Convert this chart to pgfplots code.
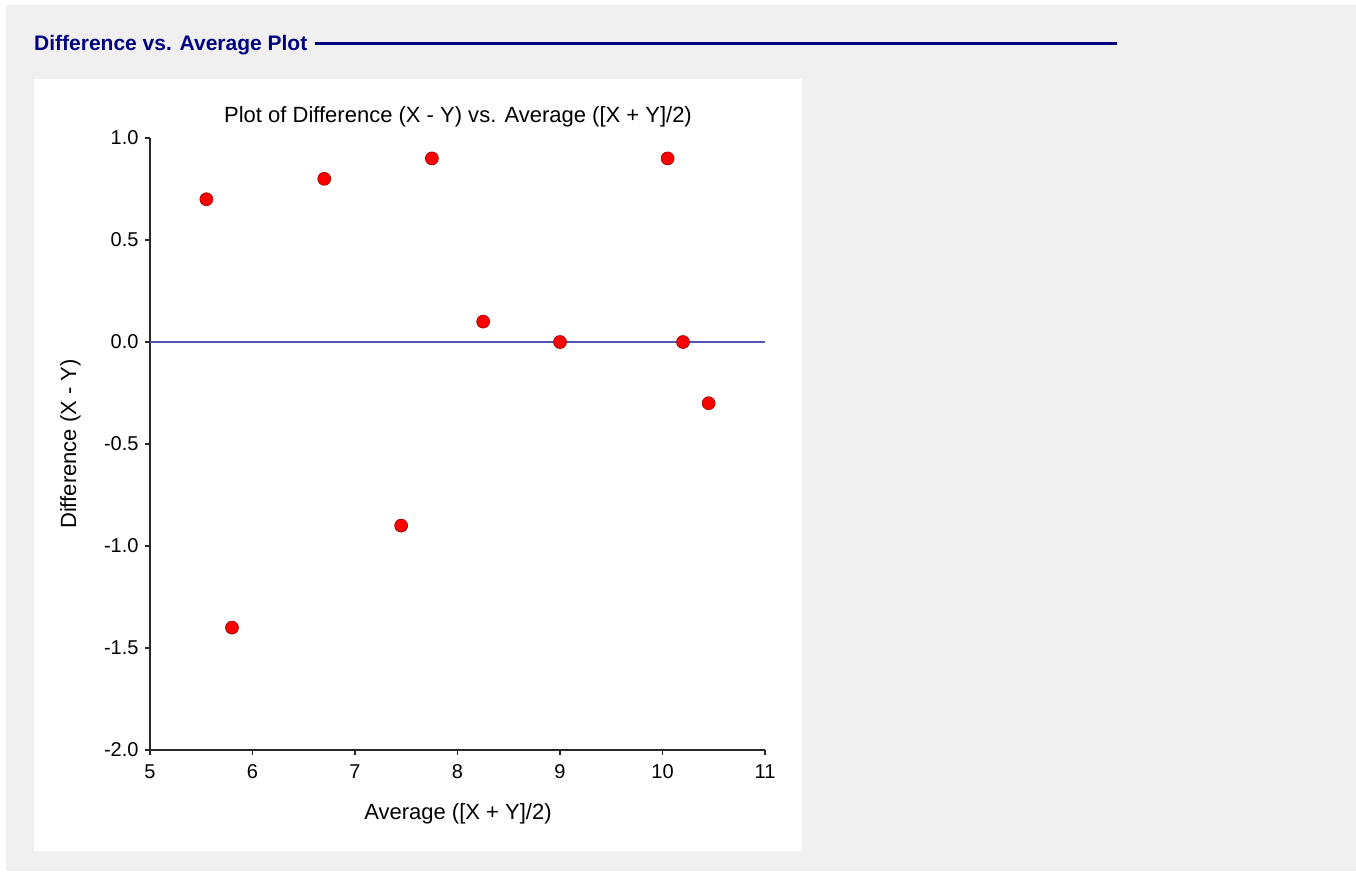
\documentclass[border=0pt]{standalone}
\usepackage{fontspec}
\setmainfont{Liberation Sans}
\usepackage{pgfplots}
\pgfplotsset{compat=1.18}
\definecolor{panelgray}{RGB}{240,240,240}
\definecolor{headnavy}{RGB}{0,0,128}
\definecolor{zeroline}{RGB}{84,84,178}
\definecolor{markred}{RGB}{255,0,0}
\definecolor{markedge}{RGB}{140,0,0}
\definecolor{axisdark}{RGB}{40,40,40}
\begin{document}
\begin{tikzpicture}[x=1bp,y=1bp]
% page, grey report panel and white chart panel
\fill[white] (0,0) rectangle (1356,-871);
\fill[panelgray] (6,-5) rectangle (1356,-871);
\fill[white] (34,-79) rectangle (802,-851);
% section heading with its rule
\node[anchor=base west, inner sep=0, text=headnavy,
      font=\fontsize{21bp}{25bp}\selectfont\bfseries] at (34,-50.5) {Difference vs. Average Plot};
\draw[headnavy, line width=2.2bp] (315,-43.5) -- (1117,-43.5);
\begin{axis}[
  at={(150bp,-750bp)}, anchor=south west,
  scale only axis, width=615bp, height=612bp,
  xmin=5, xmax=11, ymin=-2, ymax=1,
  axis lines*=left,
  axis line style={axisdark, line width=1.3bp},
  tick style={axisdark, line width=1.3bp},
  tick align=outside, major tick length=5bp,
  xtick={5,6,7,8,9,10,11},
  ytick={-2,-1.5,-1,-0.5,0,0.5,1},
  yticklabel style={/pgf/number format/fixed, /pgf/number format/fixed zerofill,
                    /pgf/number format/precision=1, xshift=-3bp},
  xticklabel style={yshift=-6bp},
  /pgf/number format/assume math mode=true,
  ticklabel style={font=\fontsize{20bp}{24bp}\selectfont},
  clip=false,
]
\addplot[zeroline, line width=1.3bp] coordinates {(5,0) (11,0)};
\addplot[only marks, mark=*, mark size=6.5bp,
         mark options={fill=markred, draw=markedge, line width=0.6bp}]
  coordinates {
    (5.55,0.7) (5.80,-1.4) (6.70,0.8) (7.45,-0.9) (7.75,0.9)
    (8.25,0.1) (9.00,0.0) (10.05,0.9) (10.20,0.0) (10.45,-0.3)
  };
\end{axis}
% chart title and axis titles
\node[anchor=base, inner sep=0, font=\fontsize{22bp}{26bp}\selectfont] at (458,-122)
  {Plot of Difference (X - Y) vs. Average ([X + Y]/2)};
\node[anchor=base, inner sep=0, font=\fontsize{22bp}{26bp}\selectfont] at (458,-819)
  {Average ([X + Y]/2)};
\node[anchor=base, rotate=90, inner sep=0, font=\fontsize{22bp}{26bp}\selectfont] at (76,-444)
  {Difference (X - Y)};
\end{tikzpicture}
\end{document}
